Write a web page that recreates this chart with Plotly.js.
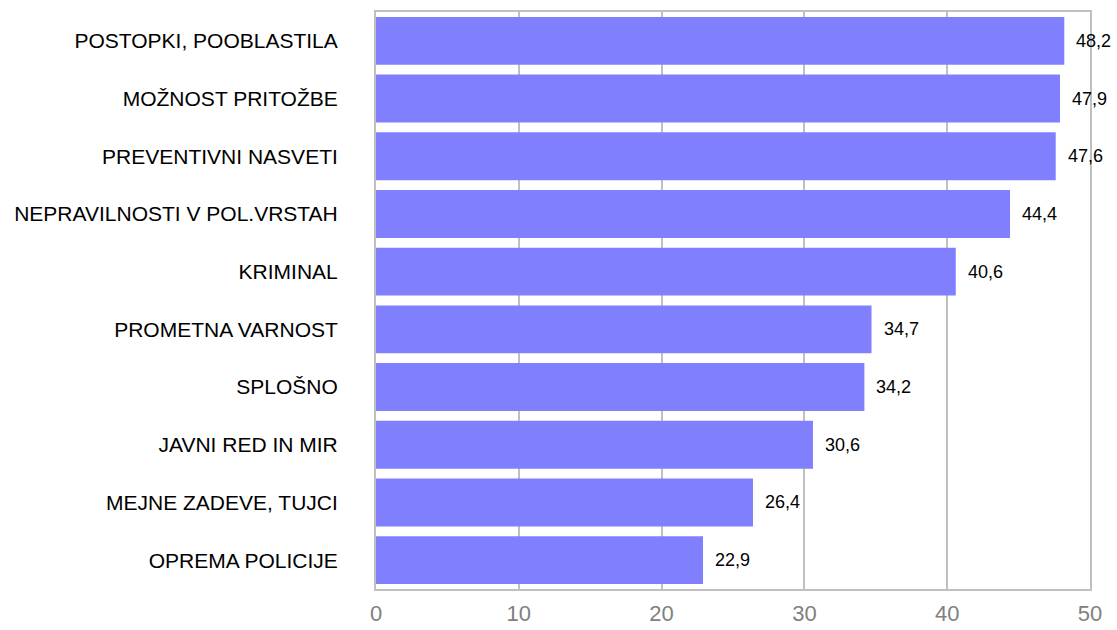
<!DOCTYPE html>
<html>
<head>
<meta charset="utf-8">
<script src="https://cdn.plot.ly/plotly-3.0.1.min.js"></script>
<style>html,body{margin:0;padding:0;background:#fff;}#chart{width:1117px;height:630px;}</style>
</head>
<body>
<div id="chart"></div>
<script>
const categories = [
  "POSTOPKI, POOBLASTILA",
  "MOŽNOST PRITOŽBE",
  "PREVENTIVNI NASVETI",
  "NEPRAVILNOSTI V POL.VRSTAH",
  "KRIMINAL",
  "PROMETNA VARNOST",
  "SPLOŠNO",
  "JAVNI RED IN MIR",
  "MEJNE ZADEVE, TUJCI",
  "OPREMA POLICIJE"
];
const values = [48.2, 47.9, 47.6, 44.4, 40.6, 34.7, 34.2, 30.6, 26.4, 22.9];
const tickValues = [0, 10, 20, 30, 40, 50];

const fmt = v => v.toFixed(1).replace('.', ',');

const trace = {
  type: 'bar',
  orientation: 'h',
  x: values,
  y: categories,
  marker: {color: '#8080FF'},
  width: 0.83,
  hoverinfo: 'none'
};

const annotations = values.map((v, i) => ({
  x: v, y: categories[i], xref: 'x', yref: 'y',
  text: fmt(v), showarrow: false, xanchor: 'left', yanchor: 'middle',
  xshift: 10,
  font: {family: 'Liberation Sans, Arial, sans-serif', size: 18, color: '#000'}
}));

const layout = {
  width: 1117, height: 630,
  margin: {l: 376, r: 27, t: 12, b: 41},
  paper_bgcolor: '#fff', plot_bgcolor: '#fff',
  showlegend: false,
  xaxis: {
    range: [0, 50], tickvals: tickValues, ticktext: tickValues.map(String),
    showgrid: true, gridcolor: '#c0c0c0', gridwidth: 2,
    showline: true, mirror: true, linecolor: '#c0c0c0', linewidth: 2,
    zeroline: false, ticks: '', ticklabelstandoff: 4,
    tickfont: {family: 'Liberation Sans, Arial, sans-serif', size: 22, color: '#808080'},
    fixedrange: true
  },
  yaxis: {
    autorange: 'reversed', type: 'category',
    showgrid: false, showline: true, mirror: true, linecolor: '#c0c0c0', linewidth: 2,
    zeroline: false, ticks: '', ticklabelstandoff: 32,
    tickfont: {family: 'Liberation Sans, Arial, sans-serif', size: 21, color: '#000'},
    fixedrange: true
  },
  annotations: annotations
};

Plotly.newPlot('chart', [trace], layout, {displayModeBar: false, staticPlot: true});
</script>
</body>
</html>
